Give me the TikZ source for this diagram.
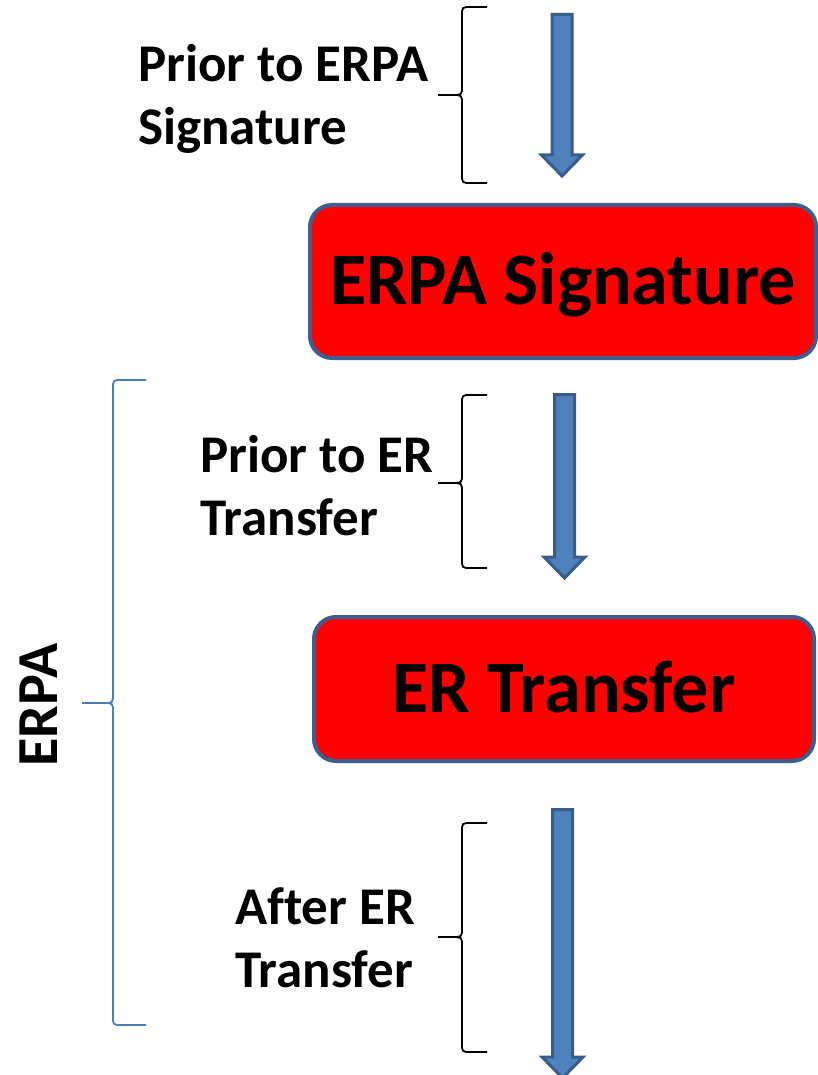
\documentclass[tikz,border=0pt]{standalone}
\usepackage{fontspec}
\setmainfont{Carlito}[Ligatures=NoCommon]
\definecolor{boxred}{HTML}{FF0000}
\definecolor{boxline}{HTML}{3C5F8E}
\definecolor{arrfill}{HTML}{4F81BD}
\definecolor{arrline}{HTML}{385D8A}
\definecolor{bigblue}{HTML}{4A7EBB}
\newcommand\blockarr[4]{% name, x, ytop, ytip
  \coordinate (#1top) at (#2,#3);
  \coordinate (#1tip) at (#2,#4);
  \draw[blockarrow] (#2-10,#3) -- (#2+10,#3) -- (#2+10,#4-21) -- (#2+20.5,#4-21)
    -- (#2,#4) -- (#2-20.5,#4-21) -- (#2-10,#4-21) -- cycle;}
\newcommand\sidebrace[6]{% style, xend, xline, xtip, ytop, ymid
  \draw[#1] (#2,#5) -- (#3+9,#5) .. controls (#3,#5) .. (#3,#5+9) -- (#3,#6-9)
    .. controls (#3,#6) .. (#3-10,#6) -- (#4,#6);}
\newcommand\sidebracelow[6]{% style, xend, xline, xtip, ymid, ybot
  \draw[#1] (#4,#5) -- (#3-10,#5) .. controls (#3,#5) .. (#3,#5+9) -- (#3,#6-9)
    .. controls (#3,#6) .. (#3+9,#6) -- (#2,#6);}
\begin{document}
\begin{tikzpicture}[x=1pt,y=-1pt,
  blockarrow/.style={fill=arrfill,draw=arrline,line width=3pt,line join=miter},
  redbox/.style={fill=boxred,draw=boxline,line width=4pt,rounded corners=22pt,
    inner sep=0pt,text height=46pt,text depth=0pt,
    font=\fontsize{74}{80}\selectfont\bfseries},
  blackbrace/.style={draw=black,line width=1.8pt},
  bluebrace/.style={draw=bigblue,line width=1.8pt},
  phase/.style={anchor=base west,align=left,inner sep=0pt,
    font=\fontsize{53}{63}\selectfont\bfseries}]
\useasboundingbox (0,0) rectangle (817,1075);

% block arrows
\blockarr{a1}{562}{14.5}{176}
\blockarr{a2}{564.5}{394.5}{578}
\blockarr{a3}{562.5}{809.5}{1078}

% red boxes
\node[redbox,minimum width=506pt,minimum height=153pt] (box1) at (563,281.5) {ERPA Signature};
\node[redbox,minimum width=500pt,minimum height=144pt] (box2) at (564,689) {ER Transfer};

% small braces
\sidebrace{blackbrace}{487}{462}{438}{7}{95}
\sidebracelow{blackbrace}{487}{462}{438}{95}{183}
\sidebrace{blackbrace}{487}{462}{438}{395}{483}
\sidebracelow{blackbrace}{487}{462}{438}{483}{568}
\sidebrace{blackbrace}{487}{462}{438}{823}{937}
\sidebracelow{blackbrace}{487}{462}{438}{937}{1052}

% big brace
\sidebrace{bluebrace}{146}{113}{82}{380}{703}
\sidebracelow{bluebrace}{146}{113}{82}{703}{1025}

% labels (base anchor = baseline of last line)
\node[phase] (t1) at (138,145) {Prior to ERPA\\Signature};
\node[phase] (t2) at (200,535) {Prior to ER\\Transfer};
\node[phase] (t3) at (235,987) {After ER\\Transfer};
\node[rotate=90,inner sep=0pt,text height=37pt,text depth=0pt,
  font=\fontsize{58}{64}\selectfont\bfseries] (erpa) at (39,705) {ERPA};
\end{tikzpicture}
\end{document}
